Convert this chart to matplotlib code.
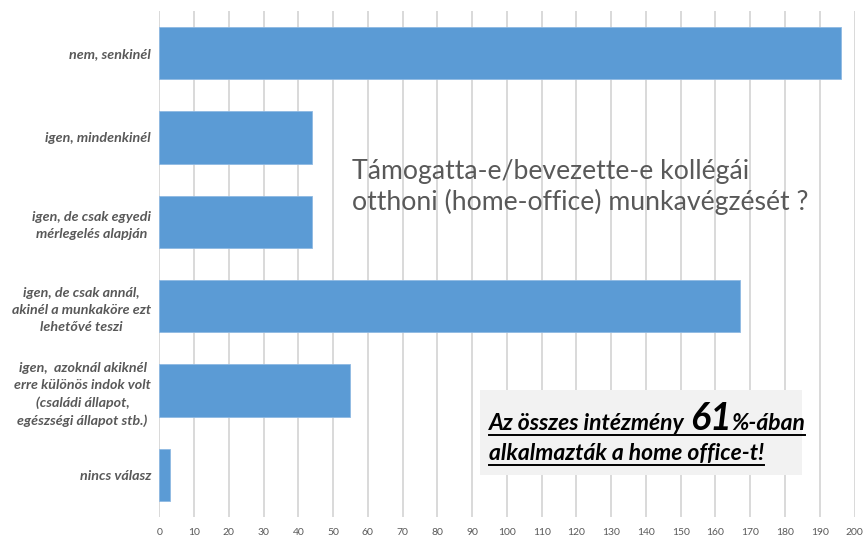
import matplotlib
matplotlib.use("Agg")
import matplotlib.pyplot as plt
from matplotlib.patches import Rectangle

categories = [
    "nem, senkinél",
    "igen, mindenkinél",
    "igen, de csak egyedi\nmérlegelés alapján",
    "igen, de csak annál,\nakinél a munkaköre ezt\nlehetővé teszi",
    "igen,  azoknál akiknél\nerre különös indok volt\n(családi állapot,\negészségi állapot stb.)",
    "nincs válasz",
]
values = [196, 44, 44, 167, 55, 3]
xticks = list(range(0, 201, 10))

title_text = "Támogatta-e/bevezette-e kollégái\notthoni (home-office) munkavégzését ?"
note_parts_line1 = ["Az összes intézmény ", "61", "%-ában"]
note_line2 = "alkalmazták a home office-t!"

FONT = "Lato"
GRAY = "#595959"

fig = plt.figure(figsize=(8.64, 5.37), dpi=100)
ax = fig.add_axes([159.3 / 864, 1 - 517 / 537, (854.5 - 159.3) / 864, (517 - 11) / 537])

ypos = list(range(len(categories)))
ax.barh(ypos, values, height=0.62, color="#5b9bd5", edgecolor="#8fb9e3", linewidth=0.6, zorder=3)
ax.set_ylim(len(categories) - 0.5, -0.5)
ax.set_xlim(0, 200)
ax.set_xticks(xticks)
ax.set_xticklabels([str(t) for t in xticks], fontsize=7.5, color=GRAY, family=FONT)
ax.set_yticks(ypos)
ax.set_yticklabels(categories, fontsize=10.3, color=GRAY, family=FONT,
                   fontweight="bold", fontstyle="italic", multialignment="center",
                   linespacing=1.5)
ax.tick_params(axis="both", length=0)
ax.tick_params(axis="y", pad=6)
ax.tick_params(axis="x", pad=8)
for s in ax.spines.values():
    s.set_visible(False)
ax.grid(axis="x", color="#d9d9d9", linewidth=1.4, zorder=0)
ax.set_axisbelow(True)

# Title text inside plot
fig.text(352 / 864, 1 - 187 / 537, title_text, fontsize=19.2, color=GRAY, family=FONT,
         ha="left", va="center", linespacing=1.25)

# Gray note box
fig.patches.append(Rectangle((480 / 864, 1 - 475 / 537), (802 - 480) / 864, (475 - 390) / 537,
                             transform=fig.transFigure, facecolor="#f2f2f2", edgecolor="none",
                             zorder=5))

fig.canvas.draw()
renderer = fig.canvas.get_renderer()

def place_line(parts, sizes, x0, baseline, underline_y):
    x = x0
    for txt, sz in zip(parts, sizes):
        t = fig.text(x / 864, 1 - baseline / 537, txt, fontsize=sz, family=FONT,
                     fontweight="bold", fontstyle="italic", color="black",
                     ha="left", va="baseline", zorder=6)
        bb = t.get_window_extent(renderer=renderer)
        x += bb.width
    fig.add_artist(plt.Line2D([x0 / 864, x / 864], [1 - underline_y / 537] * 2,
                              transform=fig.transFigure, color="black", linewidth=1.4, zorder=6))

place_line(note_parts_line1, [16.5, 27, 16.5], 489, 430, 435)
place_line([note_line2], [16.5], 489, 460, 465)

fig.savefig("out.png", dpi=100)
